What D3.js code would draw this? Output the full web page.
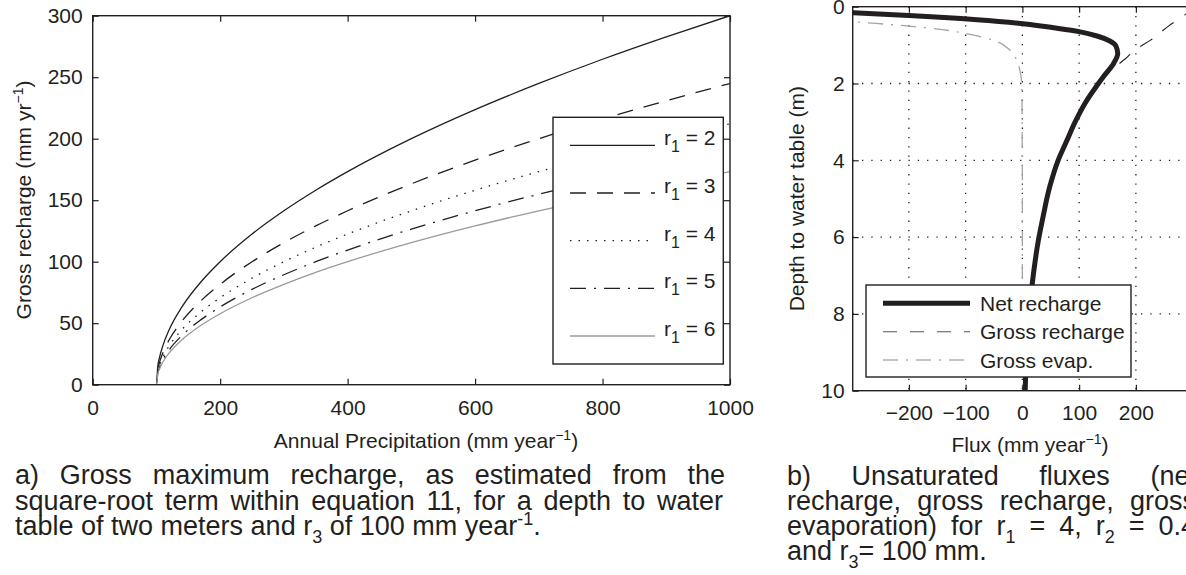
<!DOCTYPE html>
<html lang="en">
<head>
<meta charset="utf-8">
<title>Gross recharge and unsaturated fluxes</title>
<script src="https://d3js.org/d3.v7.min.js"></script>
<style>
  body { margin: 0; background: #fff; }
  svg { font-family: "Liberation Sans", Arial, Helvetica, sans-serif; }
  text { fill: #231f20; }
</style>
</head>
<body>
<div id="chart"></div>
<script>
// ---------- panel a : gross maximum recharge vs precipitation ----------
var precip      = [0, 100, 102, 105, 110, 120, 140, 170, 200, 250, 300, 350, 400, 500, 600, 700, 800, 900, 1000];
var rechargeR2  = [0, 0, 14.1, 22.4, 31.6, 44.7, 63.2, 83.7, 100, 122.5, 141.4, 158.1, 173.2, 200, 223.6, 244.9, 264.6, 282.8, 300];
var rechargeR3  = [0, 0, 11.5, 18.3, 25.8, 36.5, 51.6, 68.3, 81.6, 100, 115.5, 129.1, 141.4, 163.3, 182.6, 200, 216, 230.9, 244.9];
var rechargeR4  = [0, 0, 10.0, 15.8, 22.4, 31.6, 44.7, 59.2, 70.7, 86.6, 100, 111.8, 122.5, 141.4, 158.1, 173.2, 187.1, 200, 212.1];
var rechargeR5  = [0, 0, 8.9, 14.1, 20, 28.3, 40, 52.9, 63.2, 77.5, 89.4, 100, 109.5, 126.5, 141.4, 154.9, 167.3, 178.9, 189.7];
var rechargeR6  = [0, 0, 8.2, 12.9, 18.3, 25.8, 36.5, 48.3, 57.7, 70.7, 81.6, 91.3, 100, 115.5, 129.1, 141.4, 152.8, 163.3, 173.2];
var r1Values    = ["2", "3", "4", "5", "6"];
var xTicksA     = [0, 200, 400, 600, 800, 1000];
var yTicksA     = [0, 50, 100, 150, 200, 250, 300];

// ---------- panel b : unsaturated fluxes vs depth ----------
var netDepth    = [0.14, 0.16, 0.23, 0.34, 0.45, 0.55, 0.65, 0.77, 0.9, 1.03, 1.22, 1.47, 1.8, 2.0, 2.5, 3.0, 3.5, 4.0, 4.7, 5.5, 6.1, 6.9, 8.2, 9.1, 10];
var netFlux     = [-330, -298, -200, -80, 5, 55, 100, 133, 155, 165, 168, 161, 144, 134, 111, 93, 78, 63, 48, 36, 28, 20, 11, 7, 5];
var grossDepth  = [0, 0.17, 0.5, 0.87, 1.13, 1.35, 1.55, 1.8, 2.0, 2.5, 3.0, 3.5, 4.0, 4.7, 5.5, 6.1, 6.9, 8.2, 9.1, 10];
var grossFlux   = [305, 290, 258, 226, 198, 182, 165, 145, 134, 111, 93, 78, 63, 48, 36, 28, 20, 11, 7, 5];
var evapDepth   = [0.35, 0.39, 0.5, 0.59, 0.74, 0.91, 1.13, 1.39, 1.69, 2.08, 3, 5, 7, 10];
var evapFlux    = [-330, -298, -204, -145, -86, -45, -22, -10, -4, -1, -0.5, 0, 0, 0];
var fluxNames   = ["Net recharge", "Gross recharge", "Gross evap."];
var xTicksB     = [-200, -100, 0, 100, 200];
var yTicksB     = [0, 2, 4, 6, 8, 10];

var ink = "#231f20";

var svg = d3.select("#chart").append("svg")
    .attr("width", 1186)
    .attr("height", 575);

// ================= panel a =================
var xA = d3.scaleLinear().domain([0, 1000]).range([92.7, 730]);
var yA = d3.scaleLinear().domain([0, 300]).range([384.7, 15.7]);

var seriesA = [
  {values: rechargeR2, dash: null,          color: ink},
  {values: rechargeR3, dash: "16,11",       color: ink},
  {values: rechargeR4, dash: "1.5,7",       color: ink},
  {values: rechargeR5, dash: "16,8,2,8",    color: ink},
  {values: rechargeR6, dash: null,          color: "#9a9a9a"}
];

var lineA = d3.line()
    .x(function(d, i) { return xA(precip[i]); })
    .y(function(d) { return yA(d); })
    .curve(d3.curveMonotoneX);

svg.append("clipPath").attr("id", "clipA")
  .append("rect").attr("x", 92.7).attr("y", 15.7).attr("width", 730 - 92.7).attr("height", 384.7 - 15.7);

var gA = svg.append("g");

seriesA.forEach(function(s) {
  gA.append("path")
    .attr("clip-path", "url(#clipA)")
    .attr("d", lineA(s.values))
    .attr("fill", "none")
    .attr("stroke", s.color)
    .attr("stroke-width", 1.3)
    .attr("stroke-dasharray", s.dash);
});

function styleAxis(g, size) {
  g.select(".domain").remove();
  g.selectAll("line").attr("stroke", ink).attr("stroke-width", 1.2);
  g.selectAll("text").attr("font-size", size).attr("font-family", "Liberation Sans, Arial, sans-serif").attr("fill", ink);
}

var plain = d3.format("d");

gA.append("g").attr("transform", "translate(0,384.7)")
  .call(d3.axisBottom(xA).tickValues(xTicksA).tickFormat(plain).tickSize(-6).tickPadding(15))
  .call(styleAxis, 21);
gA.append("g").attr("transform", "translate(0,15.7)")
  .call(d3.axisTop(xA).tickValues(xTicksA).tickSize(-6).tickFormat(""))
  .call(styleAxis, 21);
gA.append("g").attr("transform", "translate(92.7,0)")
  .call(d3.axisLeft(yA).tickValues(yTicksA).tickFormat(plain).tickSize(-6).tickPadding(10))
  .call(styleAxis, 21);
gA.append("g").attr("transform", "translate(730,0)")
  .call(d3.axisRight(yA).tickValues(yTicksA).tickSize(-6).tickFormat(""))
  .call(styleAxis, 21);

gA.append("rect")
  .attr("x", 92.7).attr("y", 15.7).attr("width", 730 - 92.7).attr("height", 384.7 - 15.7)
  .attr("fill", "none").attr("stroke", ink).attr("stroke-width", 1.4);

// legend a
var legA = gA.append("g");
legA.append("rect")
  .attr("x", 553).attr("y", 117.3).attr("width", 170.3).attr("height", 246.7)
  .attr("fill", "#fff").attr("stroke", ink).attr("stroke-width", 1.4);
var legAy = d3.scaleLinear().domain([0, 4]).range([145.3, 336]);
seriesA.forEach(function(s, i) {
  var ly = legAy(i);
  legA.append("line")
    .attr("x1", 570).attr("x2", 655).attr("y1", ly).attr("y2", ly)
    .attr("stroke", s.color).attr("stroke-width", 1.3)
    .attr("stroke-dasharray", s.dash);
  var t = legA.append("text").attr("x", 664).attr("y", ly).attr("font-size", 21);
  t.append("tspan").text("r");
  t.append("tspan").attr("dy", 7).attr("font-size", 16).text("1");
  t.append("tspan").attr("dy", -7).text(" = " + r1Values[i]);
});

// axis labels a
var xlabA = gA.append("text")
  .attr("x", 426).attr("y", 448).attr("text-anchor", "middle").attr("font-size", 21);
xlabA.append("tspan").text("Annual Precipitation (mm year");
xlabA.append("tspan").attr("dy", -8).attr("font-size", 14).text("\u22121");
xlabA.append("tspan").attr("dy", 8).text(")");

var ylabA = gA.append("text")
  .attr("transform", "translate(31,200) rotate(-90)")
  .attr("text-anchor", "middle").attr("font-size", 21);
ylabA.append("tspan").text("Gross recharge (mm yr");
ylabA.append("tspan").attr("dy", -8).attr("font-size", 14).text("\u22121");
ylabA.append("tspan").attr("dy", 8).text(")");

// ================= panel b =================
var xB = d3.scaleLinear().domain([-299, 300]).range([852.7, 852.7 + 599 * 0.5675]);
var yB = d3.scaleLinear().domain([0, 10]).range([6.7, 390.7]);

svg.append("clipPath").attr("id", "clipB")
  .append("rect").attr("x", 852.7).attr("y", 6.7).attr("width", xB(300) - 852.7).attr("height", 384);

var gB = svg.append("g");

// dotted grid
gB.selectAll(".vgrid").data(xTicksB).enter().append("line")
  .attr("x1", function(d) { return xB(d); }).attr("x2", function(d) { return xB(d); })
  .attr("y1", yB(0)).attr("y2", yB(10))
  .attr("stroke", ink).attr("stroke-width", 1.3).attr("stroke-dasharray", "1.3,8");
gB.selectAll(".hgrid").data(yTicksB.slice(1, 5)).enter().append("line")
  .attr("x1", xB(-299)).attr("x2", xB(300))
  .attr("y1", function(d) { return yB(d); }).attr("y2", function(d) { return yB(d); })
  .attr("stroke", ink).attr("stroke-width", 1.3).attr("stroke-dasharray", "1.3,8");

var seriesB = [
  {depth: netDepth,   flux: netFlux,   color: ink,       width: 5,   dash: null,          legendColor: ink},
  {depth: grossDepth, flux: grossFlux, color: ink,       width: 1.1, dash: "14,13",       legendColor: "#555"},
  {depth: evapDepth,  flux: evapFlux,  color: "#a3a3a3", width: 1.3, dash: "15,8,2,8",    legendColor: "#b0b0b0"}
];

function lineB(s) {
  return d3.line()
    .x(function(d, i) { return xB(s.flux[i]); })
    .y(function(d) { return yB(d); })
    .curve(d3.curveMonotoneY)(s.depth);
}

// draw thin lines first, thick net recharge on top
[2, 1, 0].forEach(function(k) {
  var s = seriesB[k];
  gB.append("path")
    .attr("clip-path", "url(#clipB)")
    .attr("d", lineB(s))
    .attr("fill", "none")
    .attr("stroke", s.color)
    .attr("stroke-width", s.width)
    .attr("stroke-dasharray", s.dash);
});

gB.append("g").attr("transform", "translate(0,390.7)")
  .call(d3.axisBottom(xB).tickValues(xTicksB).tickSize(-6).tickPadding(14))
  .call(styleAxis, 21);
gB.append("g").attr("transform", "translate(0,6.7)")
  .call(d3.axisTop(xB).tickValues(xTicksB).tickSize(-6).tickFormat(""))
  .call(styleAxis, 21);
gB.append("g").attr("transform", "translate(852.7,0)")
  .call(d3.axisLeft(yB).tickValues(yTicksB).tickSize(-6).tickPadding(8))
  .call(styleAxis, 21);

gB.append("rect")
  .attr("x", 852.7).attr("y", 6.7).attr("width", xB(300) - 852.7).attr("height", 384)
  .attr("fill", "none").attr("stroke", ink).attr("stroke-width", 1.4);

// legend b
var legB = gB.append("g");
legB.append("rect")
  .attr("x", 866).attr("y", 285).attr("width", 265).attr("height", 92)
  .attr("fill", "#fff").attr("stroke", ink).attr("stroke-width", 1.4);
var legBy = [303.3, 331.7, 360];
seriesB.forEach(function(s, i) {
  legB.append("line")
    .attr("x1", 883).attr("x2", 970).attr("y1", legBy[i]).attr("y2", legBy[i])
    .attr("stroke", s.legendColor).attr("stroke-width", s.width)
    .attr("stroke-dasharray", s.dash);
  legB.append("text")
    .attr("x", 980).attr("y", legBy[i] + 7.5).attr("font-size", 21)
    .text(fluxNames[i]);
});

// axis labels b
var xlabB = gB.append("text")
  .attr("x", 1030).attr("y", 452).attr("text-anchor", "middle").attr("font-size", 21);
xlabB.append("tspan").text("Flux (mm year");
xlabB.append("tspan").attr("dy", -8).attr("font-size", 14).text("\u22121");
xlabB.append("tspan").attr("dy", 8).text(")");

gB.append("text")
  .attr("transform", "translate(804,198.7) rotate(-90)")
  .attr("text-anchor", "middle").attr("font-size", 21)
  .text("Depth to water table (m)");

// ================= captions =================
function captionLine(x0, baseline, parts, width) {
  var t = svg.append("text").attr("x", x0).attr("y", baseline).attr("font-size", 27);
  var shift = 0, spaces = 0;
  parts.forEach(function(p) {
    var target = p[1] === "sub" ? 8 : p[1] === "sup" ? -10 : 0;
    t.append("tspan")
      .attr("dy", target - shift)
      .attr("font-size", p[1] === "n" ? 27 : 18)
      .text(p[0]);
    shift = target;
    spaces += (p[0].match(/ /g) || []).length;
  });
  if (width) {
    var natural = t.node().getComputedTextLength();
    t.style("word-spacing", ((width - natural) / spaces) + "px");
  }
}

captionLine(15, 484, [["a) Gross maximum recharge, as estimated from the", "n"]], 710);
captionLine(15, 510, [["square-root term within equation 11, for a depth to water", "n"]], 708);
captionLine(15, 535, [["table of two meters and r", "n"], ["3", "sub"], [" of 100 mm year", "n"], ["-1", "sup"], [".", "n"]]);

captionLine(787, 485, [["b) Unsaturated fluxes (net", "n"]], 410);
captionLine(787, 510, [["recharge, gross recharge, gross", "n"]], 409);
captionLine(787, 535, [["evaporation) for r", "n"], ["1", "sub"], [" = 4, r", "n"], ["2", "sub"], [" = 0.4", "n"]], 409);
captionLine(787, 560, [["and r", "n"], ["3", "sub"], ["= 100 mm.", "n"]]);
</script>
</body>
</html>
